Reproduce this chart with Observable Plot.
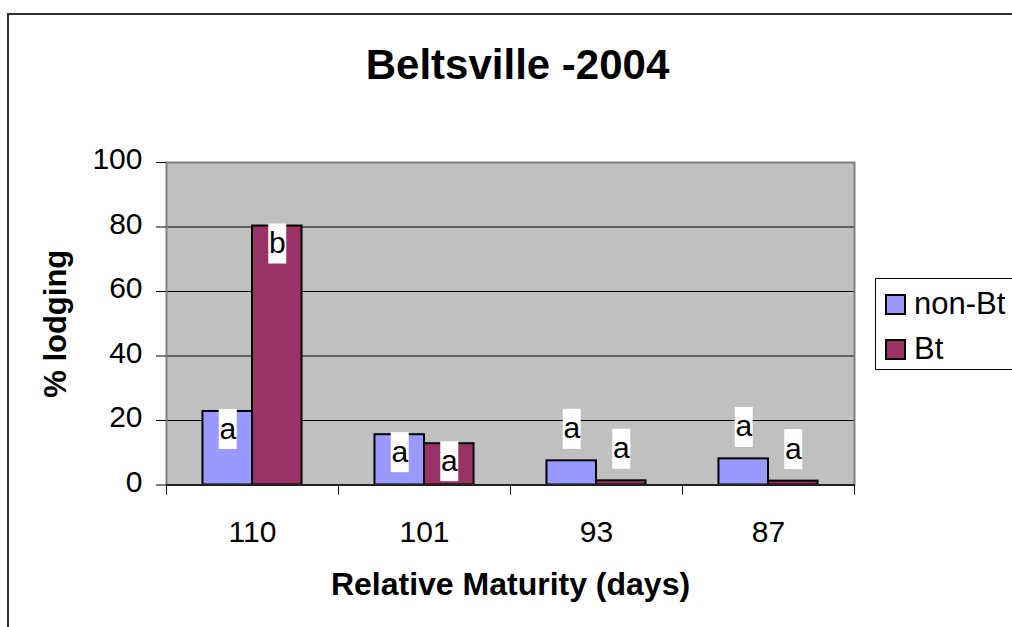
<!DOCTYPE html>
<html>
<head>
<meta charset="utf-8">
<script src="https://cdn.jsdelivr.net/npm/d3@7"></script>
<script src="https://cdn.jsdelivr.net/npm/@observablehq/plot@0.6"></script>
<style>
  html, body { margin: 0; padding: 0; background: #fff; }
  #wrap { position: relative; width: 1012px; height: 627px; overflow: hidden; font-family: "Liberation Sans", Arial, sans-serif; }
  #frame { position: absolute; left: 7px; top: 13px; width: 2000px; height: 2000px; border-left: 2px solid #333; border-top: 2px solid #333; }
  #chart { position: absolute; left: 0; top: 0; }
  #legend { position: absolute; left: 875px; top: 278px; width: 300px; height: 90px; border: 1px solid #000; background: #fff; }
  .item { position: absolute; left: 9px; height: 30px; display: flex; align-items: center; font-size: 31px; color: #000; }
  .sw { width: 17px; height: 17px; border: 2px solid #000; margin-right: 8px; }
</style>
</head>
<body>
<div id="wrap">
  <div id="frame"></div>
  <div id="chart"></div>
  <div id="legend"></div>
</div>
<script>
// ---- data ----
const categories = ["110", "101", "93", "87"];
const seriesNames = ["non-Bt", "Bt"];
const nonBt = [22.8, 15.6, 7.5, 8.1];
const bt = [80.3, 12.8, 1.3, 1.2];
const nonBtLetters = ["a", "a", "a", "a"];
const btLetters = ["b", "a", "a", "a"];
const yTicks = [0, 20, 40, 60, 80, 100];
const titleText = "Beltsville -2004";
const xTitle = "Relative Maturity (days)";
const yTitle = "% lodging";

// ---- styles ----
const colors = ["#9999FF", "#993366"];
const FONT = "Liberation Sans, Arial, sans-serif";

const rows = categories.flatMap((c, i) => [
  {i, cat: c, s: 0, value: nonBt[i], letter: nonBtLetters[i]},
  {i, cat: c, s: 1, value: bt[i], letter: btLetters[i]}
]);
const w = 0.288; // bar width as a fraction of a category band
const x1 = d => d.i + 0.5 - w + d.s * w;
const x2 = d => x1(d) + w;
const xc = d => x1(d) + w / 2;
const inside = rows.filter(d => d.value >= 10);
const outside = rows.filter(d => d.value < 10);
const boxSymbol = {draw(ctx) { ctx.moveTo(-9, -20); ctx.lineTo(9, -20); ctx.lineTo(9, 20); ctx.lineTo(-9, 20); ctx.closePath(); }};
const boundaries = d3.range(categories.length + 1);

const chart = Plot.plot({
  width: 1012,
  height: 627,
  marginLeft: 166,
  marginRight: 158,
  marginTop: 162,
  marginBottom: 142.5,
  style: {fontFamily: FONT, background: "transparent", overflow: "visible"},
  x: {domain: [0, categories.length], axis: null},
  y: {domain: [0, 100], axis: null},
  marks: [
    Plot.frame({fill: "#C0C0C0", stroke: "none"}),
    Plot.ruleY(yTicks.filter(t => t > 0 && t < 100), {y: d => d, stroke: "#000", strokeWidth: 1}),
    Plot.rectY(rows.filter(d => d.s === 0), {x1, x2, y1: 0, y2: "value", fill: colors[0], stroke: "#000", strokeWidth: 2}),
    Plot.rectY(rows.filter(d => d.s === 1), {x1, x2, y1: 0, y2: "value", fill: colors[1], stroke: "#000", strokeWidth: 2}),
    Plot.frame({stroke: "#808080", strokeWidth: 2, fill: "none"}),
    Plot.ruleY([0], {y: d => d, stroke: "#000", strokeWidth: 1.5}),
    // y ticks + labels
    Plot.ruleY(yTicks, {y: d => d, x1: 0, x2: 0, insetLeft: -10, stroke: "#000", strokeWidth: 1}),
    Plot.text(yTicks, {y: d => d, text: d => String(d), frameAnchor: "left", dx: -24, dy: -3, textAnchor: "end", lineAnchor: "middle", fontSize: 30, fill: "#000"}),
    // x ticks + labels
    Plot.ruleX(boundaries, {x: d => d, y1: 0, y2: 0, insetBottom: -10, stroke: "#000", strokeWidth: 1}),
    Plot.text(categories, {x: (d, i) => i + 0.5, y: 0, text: d => d, dy: 47, lineAnchor: "middle", fontSize: 30, fill: "#000"}),
    // significance letters with white boxes
    Plot.dot(inside, {x: xc, y: "value", dy: 17.5, symbol: boxSymbol, r: 5, fill: "#fff", stroke: "none"}),
    Plot.text(inside, {x: xc, y: "value", dy: 17.5, text: "letter", lineAnchor: "middle", fontSize: 30, fill: "#000"}),
    Plot.dot(outside, {x: xc, y: "value", dy: -32, symbol: boxSymbol, r: 5, fill: "#fff", stroke: "none"}),
    Plot.text(outside, {x: xc, y: "value", dy: -32, text: "letter", lineAnchor: "middle", fontSize: 30, fill: "#000"}),
    // titles
    Plot.text([yTitle], {text: d => d, frameAnchor: "left", rotate: -90, dx: -110, textAnchor: "middle", lineAnchor: "middle", fontSize: 31, fontWeight: "bold", fill: "#000"}),
    Plot.text([xTitle], {text: d => d, frameAnchor: "bottom", dy: 100, textAnchor: "middle", lineAnchor: "middle", fontSize: 32, fontWeight: "bold", fill: "#000"}),
    Plot.text([titleText], {text: d => d, frameAnchor: "top", dx: 7, dy: -97, textAnchor: "middle", lineAnchor: "middle", fontSize: 42, fontWeight: "bold", fill: "#000"})
  ]
});
document.getElementById("chart").appendChild(chart);

// legend
const legend = document.getElementById("legend");
seriesNames.forEach((name, k) => {
  const item = document.createElement("div");
  item.className = "item";
  item.style.top = (10 + k * 45) + "px";
  const sw = document.createElement("div");
  sw.className = "sw";
  sw.style.background = colors[k];
  const label = document.createElement("span");
  label.textContent = name;
  item.appendChild(sw);
  item.appendChild(label);
  legend.appendChild(item);
});
</script>
</body>
</html>
